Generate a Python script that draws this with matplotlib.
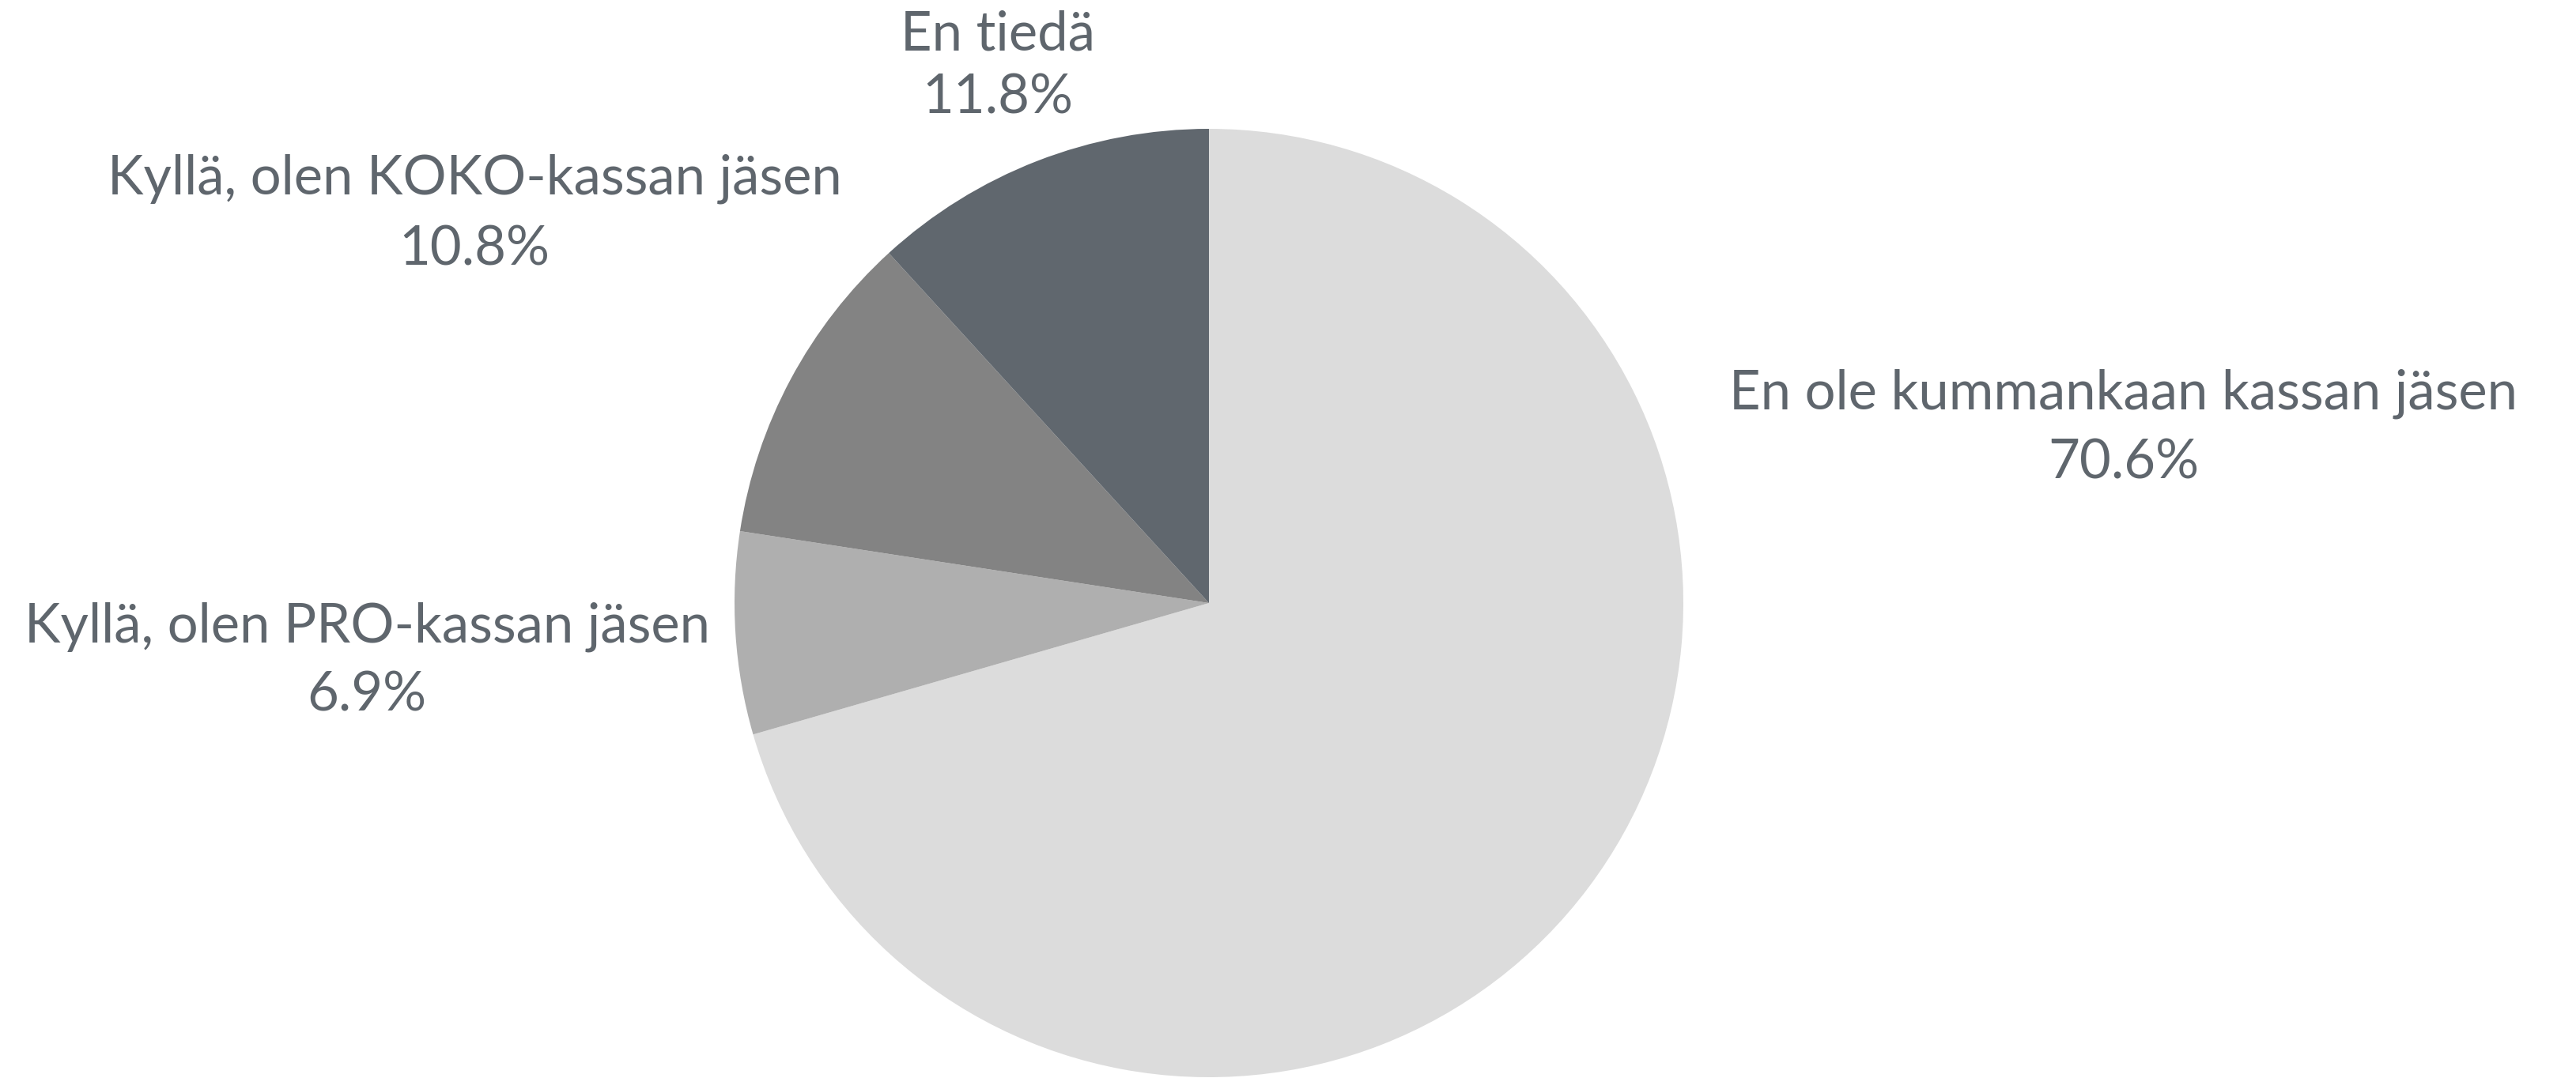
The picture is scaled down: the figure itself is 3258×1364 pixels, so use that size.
import matplotlib
matplotlib.use("Agg")
import matplotlib.pyplot as plt

# data
labels = ["En ole kummankaan kassan jäsen", "Kyllä, olen PRO-kassan jäsen",
          "Kyllä, olen KOKO-kassan jäsen", "En tiedä"]
values = [70.6, 6.9, 10.8, 11.8]
colors = ["#dcdcdc", "#afafaf", "#838383", "#60676e"]

# label anchor spots (data units, pie radius = 1): x, baseline of name, baseline of pct
label_pos = [(1.928, 0.41, 0.263),
             (-1.775, -0.082, -0.228),
             (-1.548, 0.863, 0.713),
             (-0.445, 1.165, 1.033)]

txt_color = "#5f666d"
plt.rcParams['font.family'] = ['Lato', 'DejaVu Sans']

fig = plt.figure(figsize=(32.58, 13.64), dpi=100)
ax = fig.add_axes([0, 0, 1, 1])
ax.pie(values, colors=colors, startangle=90, counterclock=False, radius=1,
       wedgeprops=dict(linewidth=0))
ax.set_aspect('equal')
ax.set_xlim(-1529/600, (3258-1529)/600)
ax.set_ylim((763-1364)/600, 763/600)
ax.axis('off')

for lab, v, (x, y1, y2) in zip(labels, values, label_pos):
    ax.text(x, y1, lab, ha='center', va='baseline', fontsize=49.5,
            color=txt_color)
    ax.text(x, y2, f"{v:.1f}%", ha='center', va='baseline', fontsize=49.5,
            color=txt_color)

fig.savefig("out.png", dpi=100, facecolor='white')
